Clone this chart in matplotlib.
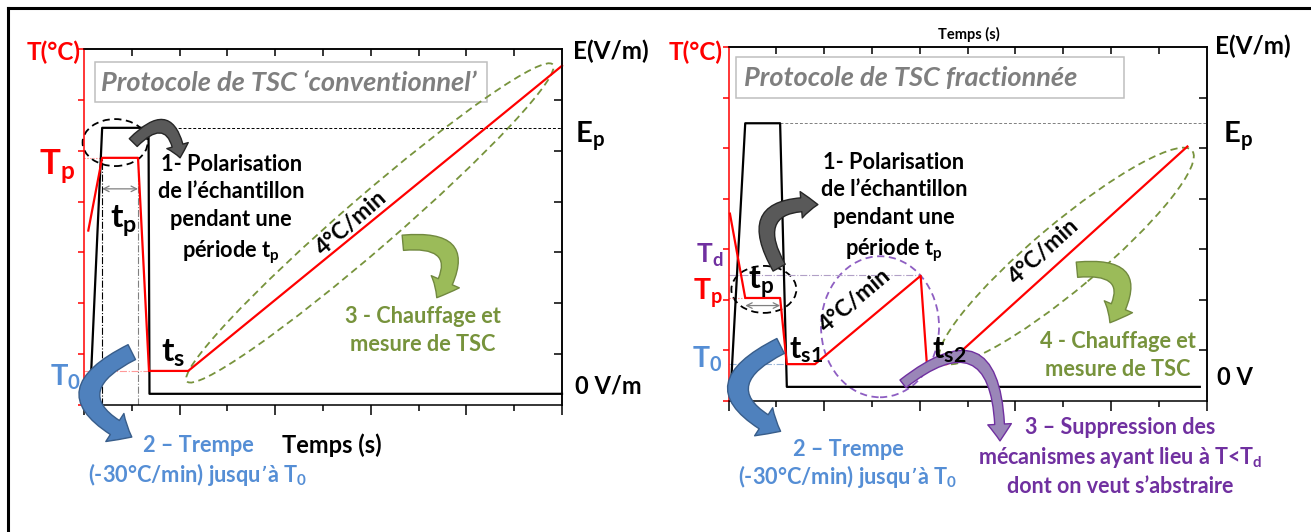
import matplotlib.pyplot as plt
from matplotlib.patches import Ellipse, FancyArrowPatch, Rectangle
from matplotlib.lines import Line2D
from matplotlib.transforms import ScaledTranslation

plt.rcParams['font.family'] = ['Lato', 'DejaVu Sans']
plt.rcParams['font.weight'] = 'bold'
plt.rcParams['mathtext.default'] = 'regular'

# ---- data (x: time units 0-10, y: level units 0-7) ----
# conventional protocol (left)
conv_E_t = [0.12, 0.38, 1.35, 1.37, 10.0]
conv_E = [0.02, 5.45, 5.45, 0.22, 0.22]
conv_T_t = [0.09, 0.38, 1.13, 1.36, 2.18, 10.0]
conv_T = [3.43, 4.86, 4.86, 0.67, 0.67, 6.67]
conv_Ep, conv_Tp, conv_T0 = 5.45, 4.86, 0.67

# fractional protocol (right)
frac_E_t = [0.05, 0.35, 1.08, 1.22, 9.86]
frac_E = [0.27, 5.49, 5.49, 0.27, 0.27]
frac_T_t = [0.03, 0.35, 1.08, 1.22, 1.81, 4.02, 4.15, 4.57, 9.60]
frac_T = [3.70, 2.03, 2.03, 0.72, 0.72, 2.47, 0.72, 0.72, 5.03]
frac_Ep, frac_Td, frac_Tp, frac_T0 = 5.49, 2.49, 2.03, 0.72

RED = '#FF0000'
BLUE = '#558ED5'
GREEN = '#77933C'
PURPLE = '#7030A0'
GREY = '#7F7F7F'

W, H = 1311, 532
fig = plt.figure(figsize=(W / 100, H / 100), dpi=100)
ax1 = fig.add_axes([84 / W, 1 - 405 / H, 478 / W, 356 / H])
ax2 = fig.add_axes([728.5 / W, 1 - 400.5 / H, 478 / W, 353.5 / H])

# outer frame (left and top only)
fig.add_artist(Line2D([7.5 / W, 7.5 / W], [0, 1 - 7.5 / H], color='black', lw=2.2))
fig.add_artist(Line2D([7.5 / W, 1], [1 - 7.5 / H, 1 - 7.5 / H], color='black', lw=2.2))


def style_axes(ax):
    ax.set_xlim(0, 10)
    ax.set_ylim(0, 7)
    ax.set_xticks(range(0, 11, 2))
    ax.set_xticks(range(1, 10, 2), minor=True)
    ax.set_yticks(range(0, 8))
    ax.tick_params(axis='x', which='major', direction='out', length=7, width=1.1, labelbottom=False)
    ax.tick_params(axis='x', which='minor', direction='out', length=4, width=1.1)
    ax.tick_params(axis='y', direction='out', length=4, width=1.1, color=RED, labelleft=False)
    for s in ax.spines.values():
        s.set_linewidth(1.1)
    ax.spines['left'].set_color(RED)
    top = ax.secondary_xaxis('top')
    top.set_xticks(range(1, 10))
    top.tick_params(direction='in', length=5, width=1.1, labeltop=False)
    top.spines['top'].set_linewidth(1.1)
    right = ax.secondary_yaxis('right')
    right.set_yticks(range(1, 7))
    right.tick_params(direction='in', length=6, width=1.1, labelright=False)
    right.spines['right'].set_linewidth(1.1)


def ellipse(ax, cx, cy, w_in, h_in, angle, color):
    tr = fig.dpi_scale_trans + ScaledTranslation(cx, cy, ax.transData)
    ax.add_patch(Ellipse((0, 0), w_in, h_in, angle=angle, transform=tr, fill=False,
                         ec=color, ls=(0, (4, 2.5)), lw=1.3, clip_on=False))


def bent_arrow(ax, a, b, conn, fc, ec, tail, head_w, head_l):
    ax.add_patch(FancyArrowPatch(a, b, connectionstyle=conn,
                                 arrowstyle=f'simple,head_length={head_l},head_width={head_w},tail_width={tail}',
                                 mutation_scale=1, fc=fc, ec=ec, lw=1, shrinkA=0, shrinkB=0,
                                 clip_on=False, zorder=5))


def ftext(px, py, s, **kw):
    fig.text(px / W, 1 - py / H, s, **kw)


for ax in (ax1, ax2):
    style_axes(ax)

# ================= left panel =================
ax1.add_patch(Rectangle((0.24, 5.96), 8.19, 0.79, fill=False, ec='#BFBFBF', lw=1.1))
ax1.text(0.36, 6.34, 'Protocole de TSC ‘conventionnel’', style='italic', color=GREY,
         size=19.5, va='center', ha='left')

ax1.plot([conv_E_t[2], 10], [conv_Ep, conv_Ep], color='black', lw=0.7, ls=(0, (3, 2)))
ax1.plot([0, conv_T_t[1]], [conv_Tp, conv_Tp], color='#FF7070', lw=0.8, ls=':')
ax1.plot([0, conv_T_t[3]], [conv_T0, conv_T0], color='#FF9999', lw=0.8, ls='-.')
ax1.plot([conv_T_t[1]] * 2, [0, conv_Tp], color='black', lw=0.8, ls='-.')
ax1.plot([conv_T_t[2]] * 2, [0, conv_Tp], color='#808080', lw=0.8, ls='-.')

ax1.plot(conv_E_t, conv_E, color='black', lw=1.6, clip_on=False)
ax1.plot(conv_T_t, conv_T, color=RED, lw=1.6, clip_on=False)

ax1.annotate('', xy=(conv_T_t[2], 4.25), xytext=(conv_T_t[1], 4.25),
             arrowprops=dict(arrowstyle='<->', color='#808080', lw=0.9, shrinkA=0, shrinkB=0))
ax1.text(0.82, 3.62, '$t_p$', size=24, ha='center', va='center')
ax1.text(1.86, 1.02, '$t_s$', size=24, ha='center', va='center')

ellipse(ax1, 0.65, 5.16, 0.65, 0.47, 0, 'black')
ellipse(ax1, 5.98, 3.58, 4.84, 0.52, 40.9, GREEN)

ax1.text(3.08, 3.84, '1- Polarisation\nde l’échantillon\npendant une\npériode $t_p$',
         size=15.7, ha='center', va='center', linespacing=1.4)
ax1.text(5.59, 3.58, '4°C/min', size=16.5, rotation=41, ha='center', va='center',
         rotation_mode='anchor')
ax1.text(7.09, 1.47, '3 - Chauffage et\nmesure de TSC', size=15.7, color=GREEN,
         ha='center', va='center', linespacing=1.4)

bent_arrow(ax1, (1.03, 5.16), (2.01, 4.86), 'arc3,rad=-1.0', '#595959', '#262626', 8, 16, 9)
bent_arrow(ax1, (1.0, 1.04), (1.0, -0.63), 'arc3,rad=1.0', '#4F81BD', '#385D8A', 12, 24, 14)
bent_arrow(ax1, (6.67, 3.19), (7.38, 2.11), 'arc3,rad=-1.0', '#9BBB59', '#71893F', 11, 22, 13)

# ================= right panel =================
ax2.add_patch(Rectangle((0.165, 6.00), 8.1, 0.80, fill=False, ec='#BFBFBF', lw=1.1))
ax2.text(0.33, 6.38, 'Protocole de TSC fractionnée', style='italic', color=GREY,
         size=19.5, va='center', ha='left')

ax2.plot([frac_E_t[2], 10], [frac_Ep, frac_Ep], color='#808080', lw=0.7, ls=(0, (3, 2)))
ax2.plot([0, frac_T_t[5]], [frac_Td, frac_Td], color='#B1A0C7', lw=0.8, ls='-.')
ax2.plot([0, frac_T_t[1]], [frac_Tp, frac_Tp], color='#FF7070', lw=0.8, ls=':')
ax2.plot([0, frac_T_t[3]], [frac_T0, frac_T0], color='#95B3D7', lw=0.8, ls='-.')

ax2.plot(frac_E_t, frac_E, color='black', lw=1.6, clip_on=False)
ax2.plot(frac_T_t, frac_T, color=RED, lw=1.6, clip_on=False)

ax2.annotate('', xy=(frac_T_t[2], 1.88), xytext=(frac_T_t[1], 1.88),
             arrowprops=dict(arrowstyle='<->', color='#808080', lw=0.9, shrinkA=0, shrinkB=0))
ax2.text(0.69, 2.35, '$t_p$', size=23, ha='center', va='center', zorder=6)
ax2.text(1.62, 1.0, '$t_{s1}$', size=22, ha='center', va='center', zorder=6)
ax2.text(4.61, 1.0, '$t_{s2}$', size=22, ha='center', va='center', zorder=6)

ellipse(ax2, 0.74, 2.20, 0.65, 0.47, 0, 'black')
ellipse(ax2, 3.17, 1.46, 1.18, 1.41, 0, '#8E5EC2')
ellipse(ax2, 7.07, 2.86, 3.28, 0.66, 40.0, GREEN)

ax2.text(3.46, 3.82, '1- Polarisation\nde l’échantillon\npendant une\npériode $t_p$',
         size=15.7, ha='center', va='center', linespacing=1.4)
ax2.text(2.64, 1.97, '4°C/min', size=16.5, rotation=40, ha='center', va='center',
         rotation_mode='anchor')
ax2.text(6.60, 2.95, '4°C/min', size=16.5, rotation=42, ha='center', va='center',
         rotation_mode='anchor')
ax2.text(8.15, 0.89, '4 - Chauffage et\nmesure de TSC', size=15.7, color=GREEN,
         ha='center', va='center', linespacing=1.4)

bent_arrow(ax2, (1.06, 2.63), (1.87, 3.88), 'arc3,rad=-0.9', '#595959', '#262626', 10, 19, 12)
bent_arrow(ax2, (1.09, 1.08), (1.09, -0.61), 'arc3,rad=1.0', '#4F81BD', '#385D8A', 12, 24, 14)
bent_arrow(ax2, (7.29, 2.59), (7.98, 1.54), 'arc3,rad=-1.0', '#9BBB59', '#71893F', 11, 22, 13)
bent_arrow(ax2, (3.65, 0.33), (5.68, -0.80), 'angle3,angleA=38,angleB=90', '#9A86B8', PURPLE, 7, 17, 12)

# ================= labels outside the axes =================
# left panel
ftext(81, 60, 'T(°C)', color=RED, size=17.5, ha='right', va='baseline')
ftext(75, 175, '$T_p$', color=RED, size=25, ha='right', va='baseline')
ftext(81, 385, '$T_0$', color=BLUE, size=21, ha='right', va='baseline')
ftext(573, 59, 'E(V/m)', size=17.5, ha='left', va='baseline')
ftext(575, 142.5, '$E_p$', size=21, ha='left', va='baseline')
ftext(575, 394, '0 V/m', size=17, ha='left', va='baseline')
ftext(332, 445, 'Temps (s)', size=17, ha='center', va='center')
ftext(198, 445, '2 – Trempe', size=15.7, color=BLUE, ha='center', va='center')
ftext(198, 474, '(-30°C/min) jusqu’à $T_0$', size=15.7, color=BLUE, ha='center', va='center')

# right panel
ftext(723, 60, 'T(°C)', color=RED, size=17.5, ha='right', va='baseline')
ftext(723, 263, '$T_d$', color=PURPLE, size=19, ha='right', va='baseline')
ftext(723, 300, '$T_p$', color=RED, size=20.5, ha='right', va='baseline')
ftext(722, 367, '$T_0$', color=BLUE, size=20.5, ha='right', va='baseline')
ftext(1215, 54, 'E(V/m)', size=17.5, ha='left', va='baseline')
ftext(1223, 142, '$E_p$', size=21, ha='left', va='baseline')
ftext(1217, 385, '0 V', size=17, ha='left', va='baseline')
ftext(969, 34, 'Temps (s)', size=10.5, ha='center', va='center')
ftext(848, 450, '2 – Trempe', size=15.7, color=BLUE, ha='center', va='center')
ftext(848, 477, '(-30°C/min) jusqu’à $T_0$', size=15.7, color=BLUE, ha='center', va='center')
ftext(1120, 457, '3 – Suppression des\nmécanismes ayant lieu à T<$T_d$\ndont on veut s’abstraire',
      size=15.5, color=PURPLE, ha='center', va='center', linespacing=1.38)

fig.savefig('out.png', dpi=100)
